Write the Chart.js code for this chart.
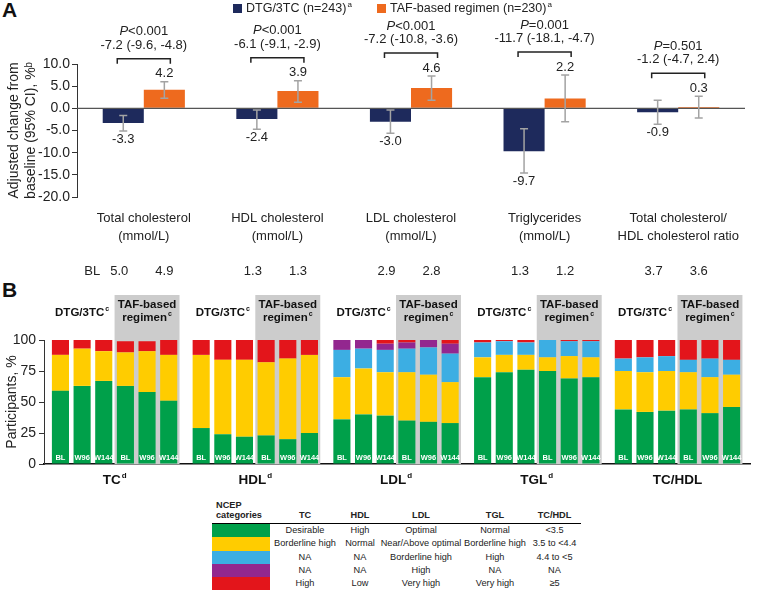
<!DOCTYPE html>
<html lang="en">
<head>
  <meta charset="UTF-8">
  <title>Lipid changes: DTG/3TC vs TAF-based regimen</title>
  <script src="https://cdn.jsdelivr.net/npm/chart.js"></script>
  <style>
    body { margin: 0; background: #fff; font-family: "Liberation Sans", Arial, sans-serif; color: #222; }
    #wrap { position: relative; width: 760px; height: 590px; overflow: hidden; }
    #chartA { position: absolute; left: 0; top: 0; }
    #chartB { position: absolute; left: 0; top: 285px; }
    .panel { position: absolute; left: 2px; font-weight: bold; font-size: 21px; line-height: 21px; color: #111; }
    #ncep { position: absolute; left: 212px; top: 500px; width: 369px; table-layout: fixed; border-collapse: collapse; font-size: 9.2px; color: #222; }
    #ncep th { font-weight: bold; height: 20px; vertical-align: bottom; padding: 0 0 3px 0; border-bottom: 1.5px solid #000; text-align: center; line-height: 10px; }
    #ncep th.cat { text-align: left; padding-left: 4px; }
    #ncep td { height: 13.3px; line-height: 13.3px; padding: 0; text-align: center; white-space: nowrap; overflow: visible; }
  </style>
</head>
<body>
<div id="wrap">
  <div class="panel" style="top:-1px">A</div>
  <div class="panel" style="top:279px">B</div>
  <canvas id="chartA" width="760" height="290"></canvas>
  <canvas id="chartB" width="760" height="210"></canvas>
  <table id="ncep">
    <colgroup>
      <col style="width:58px"><col style="width:70px"><col style="width:40px">
      <col style="width:82px"><col style="width:66px"><col style="width:53px">
    </colgroup>
    <thead>
      <tr>
        <th class="cat">NCEP<br>categories</th>
        <th>TC</th>
        <th>HDL</th>
        <th>LDL</th>
        <th>TGL</th>
        <th>TC/HDL</th>
      </tr>
    </thead>
    <tbody></tbody>
  </table>
</div>

<script>
  // ---- Panel A data ----
  const categories = [
    ['Total cholesterol', '(mmol/L)'],
    ['HDL cholesterol', '(mmol/L)'],
    ['LDL cholesterol', '(mmol/L)'],
    ['Triglycerides', '(mmol/L)'],
    ['Total cholesterol/', 'HDL cholesterol ratio']
  ];
  const dtgChange = [-3.3, -2.4, -3.0, -9.7, -0.9];
  const tafChange = [4.2, 3.9, 4.6, 2.2, 0.3];
  const dtgCI = [[-5.1, -1.6], [-4.7, -0.4], [-5.6, -0.4], [-14.6, -4.6], [-3.6, 1.8]];
  const tafCI = [[2.3, 6.0], [1.4, 6.2], [1.8, 7.3], [-3.0, 7.5], [-2.2, 2.7]];
  const pValues = ['<0.001', '<0.001', '<0.001', '=0.001', '=0.501'];
  const diffCI = ['-7.2 (-9.6, -4.8)', '-6.1 (-9.1, -2.9)', '-7.2 (-10.8, -3.6)', '-11.7 (-18.1, -4.7)', '-1.2 (-4.7, 2.4)'];
  const baselineDtg = ['5.0', '1.3', '2.9', '1.3', '3.7'];
  const baselineTaf = ['4.9', '1.3', '2.8', '1.2', '3.6'];
  const seriesNames = ['DTG/3TC (n=243)', 'TAF-based regimen (n=230)'];
  const seriesColors = ['#1e2a5c', '#ee6a1e'];

  // ---- Panel B data (6 bars per lipid: DTG/3TC BL, W96, W144, TAF BL, W96, W144) ----
  const lipidGroups = [['TC', 'd'], ['HDL', 'd'], ['LDL', 'd'], ['TGL', 'd'], ['TC/HDL', '']];
  const visits = ['BL', 'W96', 'W144', 'BL', 'W96', 'W144'];
  const pctGreen = [59, 63, 67, 63, 58, 51,  29, 24, 22, 23, 20, 25,  36, 40, 39, 35, 34, 33,  70, 74, 76, 75, 69, 70,  44, 42, 43, 44, 41, 46];
  const pctYellow = [29, 30, 24, 27, 33, 37,  59, 60, 62, 59, 65, 63,  34, 37, 35, 39, 38, 33,  16, 14, 12, 11, 18, 16,  31, 32, 32, 30, 29, 26];
  const pctBlue = [0, 0, 0, 0, 0, 0,  0, 0, 0, 0, 0, 0,  22, 16, 18, 19, 22, 23,  12, 11, 10, 14, 12, 13,  10, 12, 12, 10, 15, 12];
  const pctPurple = [0, 0, 0, 0, 0, 0,  0, 0, 0, 0, 0, 0,  8, 7, 5, 5, 6, 8,  0, 0, 0, 0, 0, 0,  0, 0, 0, 0, 0, 0];
  const pctRed = [12, 7, 9, 9, 8, 13,  12, 16, 16, 19, 15, 13,  0, 0, 3, 2, 1, 4,  2, 1, 2, 1, 1, 1,  16, 14, 13, 16, 16, 16];
  const ncepNames = ['Desirable/optimal', 'Borderline high', 'Borderline high/high', 'High', 'High/very high'];
  const ncepColors = ['#00a04a', '#ffcc00', '#3caee3', '#93278f', '#e3151b'];

  // ---- NCEP legend table ----
  const ncepTC = ['Desirable', 'Borderline high', 'NA', 'NA', 'High'];
  const ncepHDL = ['High', 'Normal', 'NA', 'NA', 'Low'];
  const ncepLDL = ['Optimal', 'Near/Above optimal', 'Borderline high', 'High', 'Very high'];
  const ncepTGL = ['Normal', 'Borderline high', 'High', 'NA', 'Very high'];
  const ncepRatio = ['<3.5', '3.5 to <4.4', '4.4 to <5', 'NA', '≥5'];

  const FONT = '"Liberation Sans", Arial, sans-serif';

  // text with a small superscript after it
  function supText(ctx, main, sup, x, y, size, weight, align) {
    const f = (weight || '') + ' ' + size + 'px ' + FONT;
    const sf = (weight || '') + ' ' + Math.round(size * 0.6) + 'px ' + FONT;
    ctx.font = f;
    const w1 = ctx.measureText(main).width;
    ctx.font = sf;
    const w2 = sup ? ctx.measureText(sup).width + 1 : 0;
    let x0 = x;
    if (align === 'center') x0 = x - (w1 + w2) / 2;
    if (align === 'right') x0 = x - w1 - w2;
    ctx.textAlign = 'left';
    ctx.font = f;
    ctx.fillText(main, x0, y);
    if (sup) {
      ctx.font = sf;
      ctx.fillText(sup, x0 + w1 + 1, y - size * 0.3);
    }
  }

  // ---------------- Panel A ----------------
  const panelAExtras = {
    id: 'panelAExtras',
    afterDatasetsDraw(chart) {
      const { ctx, chartArea, scales: { x, y } } = chart;
      const dtgBars = chart.getDatasetMeta(0).data;
      const tafBars = chart.getDatasetMeta(1).data;
      ctx.save();
      // zero line
      const y0 = y.getPixelForValue(0);
      ctx.strokeStyle = '#555';
      ctx.lineWidth = 1.2;
      ctx.beginPath();
      ctx.moveTo(chartArea.left, y0);
      ctx.lineTo(chartArea.right, y0);
      ctx.stroke();

      ctx.textBaseline = 'middle';
      ctx.fillStyle = '#222';
      const sets = [[dtgBars, dtgChange, dtgCI], [tafBars, tafChange, tafCI]];
      categories.forEach((cat, j) => {
        const tops = [];
        sets.forEach(([bars, vals, ci]) => {
          const bx = bars[j].x;
          const yLo = y.getPixelForValue(ci[j][0]);
          const yHi = y.getPixelForValue(ci[j][1]);
          tops.push(yHi);
          ctx.strokeStyle = '#a3a3a3';
          ctx.lineWidth = 1.5;
          ctx.beginPath();
          ctx.moveTo(bx, yLo); ctx.lineTo(bx, yHi);
          ctx.moveTo(bx - 4, yLo); ctx.lineTo(bx + 4, yLo);
          ctx.moveTo(bx - 4, yHi); ctx.lineTo(bx + 4, yHi);
          ctx.stroke();
          ctx.font = '13px ' + FONT;
          ctx.textAlign = 'center';
          ctx.fillText(vals[j].toFixed(1), bx, vals[j] >= 0 ? yHi - 8 : yLo + 8);
        });

        // bracket + P value + difference
        const top = Math.min(...tops) - 23;
        const xl = dtgBars[j].x - 6, xr = tafBars[j].x + 6;
        ctx.strokeStyle = '#222';
        ctx.lineWidth = 1.5;
        ctx.beginPath();
        ctx.moveTo(xl, top + 5); ctx.lineTo(xl, top); ctx.lineTo(xr, top); ctx.lineTo(xr, top + 5);
        ctx.stroke();
        const cx = (xl + xr) / 2;
        ctx.font = 'italic 13px ' + FONT;
        const wp = ctx.measureText('P').width;
        ctx.font = '13px ' + FONT;
        const wv = ctx.measureText(pValues[j]).width;
        ctx.textAlign = 'left';
        ctx.font = 'italic 13px ' + FONT;
        ctx.fillText('P', cx - (wp + wv) / 2, top - 27);
        ctx.font = '13px ' + FONT;
        ctx.fillText(pValues[j], cx - (wp + wv) / 2 + wp, top - 27);
        ctx.textAlign = 'center';
        ctx.fillText(diffCI[j], cx, top - 13.5);

        // category labels and baseline values
        const catX = x.getPixelForValue(j);
        ctx.fillText(cat[0], catX, 218);
        ctx.fillText(cat[1], catX, 236);
        ctx.fillText(baselineDtg[j], dtgBars[j].x - 4, 271);
        ctx.fillText(baselineTaf[j], tafBars[j].x, 271);
      });
      ctx.textAlign = 'right';
      ctx.fillText('BL', dtgBars[0].x - 23, 271);

      // legend
      const legendX = [233, 377];
      seriesNames.forEach((name, i) => {
        ctx.fillStyle = seriesColors[i];
        ctx.fillRect(legendX[i], 4, 9, 9);
        ctx.fillStyle = '#222';
        ctx.textBaseline = 'middle';
        supText(ctx, name, 'a', legendX[i] + 13, 9, 12.5, '', 'left');
      });
      ctx.restore();
    }
  };

  new Chart(document.getElementById('chartA'), {
    type: 'bar',
    data: {
      labels: categories.map(c => c.join(' ')),
      datasets: [
        { label: seriesNames[0], data: dtgChange, backgroundColor: seriesColors[0], borderWidth: 0 },
        { label: seriesNames[1], data: tafChange, backgroundColor: seriesColors[1], borderWidth: 0 }
      ]
    },
    options: {
      responsive: false,
      animation: false,
      categoryPercentage: 0.615,
      barPercentage: 1,
      layout: { padding: { top: 64, bottom: 93, right: 15, left: 0 } },
      plugins: { legend: { display: false }, tooltip: { enabled: false } },
      scales: {
        x: { display: false },
        y: {
          min: -20, max: 10,
          afterFit: s => { s.width = 77; },
          ticks: { stepSize: 5, padding: 2, color: '#222', font: { size: 14, family: FONT }, callback: v => v.toFixed(1) },
          grid: { drawOnChartArea: false, tickLength: 5, tickColor: '#333' },
          border: { color: '#333', width: 1 },
          title: {
            display: true,
            text: ['Adjusted change from', 'baseline (95% CI), %ᵇ'],
            color: '#222',
            font: { size: 14, family: FONT },
            padding: { top: 6, bottom: 0 }
          }
        }
      }
    },
    plugins: [panelAExtras]
  });

  // ---------------- Panel B ----------------
  const barX = [];
  lipidGroups.forEach((g, gi) => visits.forEach((v, vi) => barX.push(gi * 6.5 + vi)));
  const stackSeries = [pctGreen, pctYellow, pctBlue, pctPurple, pctRed];

  const panelBExtras = {
    id: 'panelBExtras',
    beforeDatasetsDraw(chart) {
      const { ctx, chartArea, scales: { x } } = chart;
      const half = (x.getPixelForValue(1) - x.getPixelForValue(0)) / 2;
      ctx.save();
      ctx.fillStyle = '#cccccc';
      lipidGroups.forEach((g, gi) => {
        const x0 = x.getPixelForValue(barX[gi * 6 + 3]) - half;
        const x1 = x.getPixelForValue(barX[gi * 6 + 5]) + half;
        ctx.fillRect(x0, 10, x1 - x0, chartArea.bottom - 10);
      });
      ctx.restore();
    },
    afterDatasetsDraw(chart) {
      const { ctx, chartArea, scales: { x } } = chart;
      ctx.save();
      ctx.textBaseline = 'middle';
      // visit labels inside bars
      ctx.fillStyle = '#fff';
      ctx.font = 'bold 7.5px ' + FONT;
      ctx.textAlign = 'center';
      barX.forEach((bx, i) => {
        ctx.fillText(visits[i % 6], x.getPixelForValue(bx), chartArea.bottom - 6);
      });
      // headers and group labels
      ctx.fillStyle = '#111';
      lipidGroups.forEach((g, gi) => {
        const dx = x.getPixelForValue(barX[gi * 6 + 1]);
        const tx = x.getPixelForValue(barX[gi * 6 + 4]);
        supText(ctx, 'DTG/3TC', 'c', dx, 28, 11.5, 'bold', 'center');
        ctx.font = 'bold 11.5px ' + FONT;
        ctx.textAlign = 'center';
        ctx.fillText('TAF-based', tx, 20);
        supText(ctx, 'regimen', 'c', tx, 33, 11.5, 'bold', 'center');
        const gx = (x.getPixelForValue(barX[gi * 6]) + x.getPixelForValue(barX[gi * 6 + 5])) / 2;
        supText(ctx, g[0], g[1], gx, 195, 13.5, 'bold', 'center');
      });
      ctx.restore();
    }
  };

  new Chart(document.getElementById('chartB'), {
    type: 'bar',
    data: {
      datasets: stackSeries.map((arr, k) => ({
        label: ncepNames[k],
        data: arr.map((v, i) => ({ x: barX[i], y: v })),
        backgroundColor: ncepColors[k],
        borderWidth: 0,
        categoryPercentage: 1,
        barPercentage: 0.79
      }))
    },
    options: {
      responsive: false,
      animation: false,
      layout: { padding: { top: 55, bottom: 31, right: 10, left: 0 } },
      plugins: { legend: { display: false }, tooltip: { enabled: false } },
      scales: {
        x: {
          type: 'linear', stacked: true, offset: false,
          min: -0.76, max: 31.85,
          afterFit: s => { s.height = 0; },
          ticks: { display: false },
          grid: { display: false },
          border: { display: true, color: '#111', width: 1.5 }
        },
        y: {
          stacked: true, min: 0, max: 100,
          afterFit: s => { s.width = 44; },
          ticks: { stepSize: 25, padding: 3, color: '#222', font: { size: 14, family: FONT } },
          grid: { drawOnChartArea: false, tickLength: 5, tickColor: '#333' },
          border: { color: '#333', width: 1 },
          title: {
            display: true,
            text: 'Participants, %',
            color: '#222',
            font: { size: 14, family: FONT },
            padding: { top: 4, bottom: 0 }
          }
        }
      }
    },
    plugins: [panelBExtras]
  });

  // NCEP table rows
  const tbody = document.querySelector('#ncep tbody');
  ncepColors.forEach((c, i) => {
    const tr = document.createElement('tr');
    tr.innerHTML = `
      <td style="background:${c}"></td>
      <td>${ncepTC[i]}</td>
      <td>${ncepHDL[i]}</td>
      <td>${ncepLDL[i]}</td>
      <td>${ncepTGL[i]}</td>
      <td>${ncepRatio[i].replace('<', '&lt;')}</td>`;
    tbody.appendChild(tr);
  });
</script>
</body>
</html>
